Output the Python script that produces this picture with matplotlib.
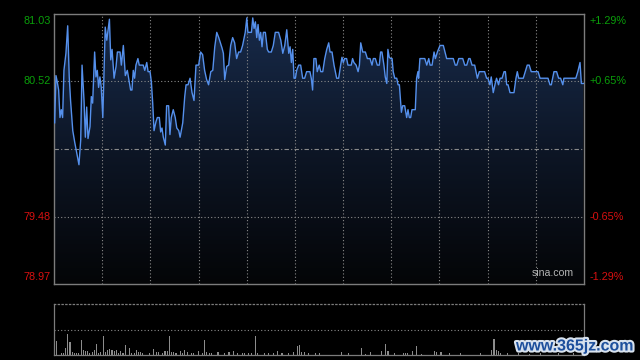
import numpy as np
import matplotlib.pyplot as plt
import matplotlib.patheffects as pe
from matplotlib.colors import LinearSegmentedColormap

plt.rcParams['font.family'] = ['Liberation Sans', 'DejaVu Sans']

# price scale (previous close in the middle)
prev_close = 80.00
y_low, y_high = 78.97, 81.03
label_prices = [81.03, 80.52, 79.48, 78.97]
left_labels = ["81.03", "80.52", "79.48", "78.97"]
right_labels = ["+1.29%", "+0.65%", "-0.65%", "-1.29%"]
label_colors = ["#0a9e0a", "#0a9e0a", "#d81010", "#d81010"]

# minute offsets from the open (0..240) and prices
t = [0.3, 0.9, 1.5, 2.1, 2.7, 3.3, 3.9, 4.5, 5.4, 6.2, 6.9, 7.5, 8.5, 9.4, 10.3, 11.3,
     12.1, 12.7, 13.6, 14.2, 14.8, 15.4, 16.3, 16.9, 17.5, 18.4, 19.0, 19.6, 20.2, 20.8,
     21.4, 22.1, 23.2, 23.9, 25.1, 25.7, 26.3, 27.2, 28.1, 28.7, 29.9, 30.5, 31.4, 32.3,
     33.2, 34.1, 34.7, 35.3, 35.9, 36.5, 37.1, 38.0, 38.6, 40.4, 41.1, 42.0, 42.6, 43.5,
     44.1, 44.7, 45.3, 46.2, 46.8, 47.7, 48.3, 48.9, 49.5, 50.4, 51.0, 51.9, 52.5, 53.1,
     54.0, 54.9, 55.6, 56.5, 57.1,
     58.3, 59.2, 59.8, 60.7, 61.6, 62.5, 63.4, 64.3, 65.5, 66.4, 67.3, 68.2, 69.1, 70.0,
     71.0, 71.9, 72.8, 73.7, 74.6, 76.1, 76.7, 77.3, 78.2, 79.1, 80.0, 80.9, 81.8, 82.7,
     83.6, 84.5, 85.4, 86.6, 87.3, 87.8, 89.4, 90.0, 90.6, 91.2, 91.8, 92.4, 93.0, 93.6,
     94.2, 94.8, 95.7, 96.6, 97.2, 98.4, 99.3, 100.2, 101.7, 102.7, 103.6, 104.5, 105.4,
     106.3, 106.9, 107.5, 108.1, 108.7, 109.3, 109.9, 110.8, 111.7, 112.6, 113.5, 114.4,
     115.9, 116.5, 117.1, 117.7,
     118.6, 119.2, 120.1, 120.8, 121.7, 122.6, 123.5, 124.4, 125.0, 125.9, 126.8, 128.0,
     128.9, 129.8, 130.4, 131.0, 131.6, 132.5, 133.1, 134.6, 135.2, 135.8, 136.8, 137.7,
     138.3, 138.9, 139.8, 141.0, 141.9, 143.1, 144.0, 144.6, 145.5, 146.4, 147.3, 147.9,
     148.5, 149.4, 150.0, 150.7, 151.2, 151.8, 152.5, 153.1, 153.6, 154.3, 155.2, 155.8,
     156.4, 157.3, 157.9, 158.8, 159.7, 160.3, 160.9, 161.5, 162.1, 163.6, 164.2, 164.8,
     165.1, 165.7, 167.9, 168.8, 169.7, 170.3, 171.2, 172.1, 172.7, 173.6, 174.8, 176.3,
     177.8, 180.8, 181.7, 182.4, 183.3, 185.1, 186.0, 186.9, 187.8, 188.4, 189.3, 190.5,
     191.7, 192.6, 195.0, 195.9, 196.5, 197.4, 198.0, 198.9, 199.8, 200.4, 201.3, 202.0,
     202.9, 203.8, 204.4, 205.0, 205.6, 206.5, 208.3, 209.2, 209.8, 210.4, 212.5, 213.4,
     214.3, 215.2, 216.1, 219.2, 220.1, 223.7, 224.6, 225.2, 226.4, 227.6, 228.5, 229.4,
     230.4, 230.9, 236.3, 237.2, 238.2, 238.8, 239.7]
price = [80.20, 80.56, 80.51, 80.45, 80.24, 80.30, 80.24, 80.60, 80.73, 80.94, 80.55, 80.37,
         80.14, 80.05, 79.97, 79.88, 80.07, 80.64, 80.37, 80.09, 80.32, 80.08, 80.17, 80.40,
         80.35, 80.74, 80.55, 80.60, 80.47, 80.55, 80.47, 80.24, 80.93, 80.83, 80.99, 80.68,
         80.76, 80.54, 80.63, 80.74, 80.74, 80.64, 80.79, 80.56, 80.60, 80.51, 80.45, 80.45,
         80.60, 80.54, 80.64, 80.69, 80.64, 80.64, 80.60, 80.66, 80.59, 80.59, 80.51, 80.35,
         80.14, 80.21, 80.24, 80.24, 80.13, 80.16, 80.09, 80.03, 80.33, 80.33, 80.11, 80.24,
         80.30, 80.24, 80.16, 80.14, 80.09,
         80.20, 80.40, 80.49, 80.49, 80.54, 80.43, 80.37, 80.64, 80.64, 80.74, 80.72, 80.60,
         80.53, 80.49, 80.59, 80.60, 80.78, 80.89, 80.85, 80.77, 80.73, 80.53, 80.63, 80.64,
         80.79, 80.85, 80.81, 80.69, 80.74, 80.74, 80.79, 80.89, 81.00, 80.89, 80.89, 81.00,
         80.92, 80.97, 80.85, 80.95, 80.83, 80.89, 80.78, 80.89, 80.89, 80.76, 80.74, 80.74,
         80.79, 80.89, 80.89, 80.83, 80.73, 80.79, 80.91, 80.73, 80.78, 80.66, 80.76, 80.54,
         80.54, 80.60, 80.64, 80.64, 80.54, 80.54, 80.59, 80.59, 80.54, 80.45, 80.69,
         80.69, 80.59, 80.64, 80.59, 80.59, 80.69, 80.76, 80.81, 80.74, 80.74, 80.64, 80.54,
         80.54, 80.64, 80.70, 80.66, 80.69, 80.69, 80.64, 80.64, 80.69, 80.66, 80.64, 80.59,
         80.64, 80.81, 80.74, 80.74, 80.69, 80.69, 80.64, 80.69, 80.69, 80.64, 80.64, 80.74,
         80.74, 80.64, 80.55, 80.50, 80.76, 80.70, 80.69, 80.69, 80.59, 80.54, 80.54, 80.49,
         80.49, 80.28, 80.33, 80.33, 80.24, 80.30, 80.24, 80.24, 80.30, 80.30, 80.54, 80.59,
         80.54, 80.69, 80.69, 80.64, 80.69, 80.64, 80.64, 80.74, 80.69, 80.74, 80.79, 80.79,
         80.69, 80.69, 80.64, 80.64, 80.69, 80.69, 80.64, 80.64, 80.69, 80.69, 80.64, 80.64,
         80.54, 80.59, 80.59, 80.54, 80.54, 80.49, 80.55, 80.43, 80.50, 80.54, 80.49, 80.54,
         80.54, 80.59, 80.59, 80.49, 80.49, 80.43, 80.43, 80.54, 80.59, 80.54, 80.54, 80.59,
         80.64, 80.64, 80.59, 80.59, 80.54, 80.54, 80.49, 80.49, 80.59, 80.59, 80.54, 80.54,
         80.49, 80.54, 80.54, 80.59, 80.66, 80.50, 80.50]

# volume bars (minute, relative volume; axis top = 100)
vol_t = [0, 1, 3, 4, 5, 6, 7, 8, 9, 10,
         11, 12, 13, 14, 15, 16, 17, 18, 19, 20,
         21, 22, 23, 24, 25, 26, 27, 28, 29, 30,
         31, 32, 34, 35, 36, 37, 38, 39, 40, 43,
         45, 46, 47, 49, 50, 51, 52, 53, 54, 55,
         57, 58, 59, 60, 62, 63, 65, 67, 68, 69,
         70, 71, 74, 77, 79, 81, 83, 85, 86, 88,
         89, 91, 92, 95, 97, 99, 101, 103, 106, 108,
         110, 111, 112, 113, 115, 118, 120, 130, 133, 139,
         141, 143, 148, 150, 151, 154, 158, 159, 160, 162,
         164, 166, 172, 173, 175, 179, 184, 193, 198, 199,
         200, 201, 202, 205, 210, 215, 220, 228, 235, 239]
vol = [71, 27, 3, 4, 14, 42, 25, 5, 3, 4,
       3, 29, 10, 8, 8, 4, 6, 10, 22, 4,
       6, 38, 5, 10, 12, 10, 8, 10, 3, 8,
       4, 20, 13, 3, 4, 10, 5, 6, 3, 3,
       12, 6, 5, 3, 8, 8, 38, 5, 6, 3,
       8, 4, 10, 5, 3, 3, 8, 3, 29, 5,
       4, 3, 5, 3, 5, 8, 3, 4, 3, 4,
       3, 38, 3, 3, 4, 3, 8, 3, 3, 5,
       18, 20, 6, 5, 3, 3, 3, 6, 3, 14,
       2, 6, 8, 22, 8, 3, 3, 4, 3, 8,
       18, 2, 8, 6, 6, 3, 3, 3, 9, 31,
       10, 8, 3, 3, 3, 2, 3, 3, 3, 4]

grid_c = "#8a8a8a"
frame_c = "#7c7c7c"

fig = plt.figure(figsize=(6.4, 3.6), dpi=100, facecolor="black")
ax = fig.add_axes([54 / 640, 1 - 284 / 360, 530 / 640, 270 / 360])
ax.set_facecolor("black")
ax.set_xlim(0, 240)
ax.set_ylim(y_low, y_high)

# gradient fill under the price line
cmap = LinearSegmentedColormap.from_list("fill", ["#040507", "#0d1626", "#182b4b"])
grad = np.linspace(0, 1, 256).reshape(-1, 1)
img = ax.imshow(grad, extent=[0, 240, y_low, y_high], origin="lower",
                aspect="auto", cmap=cmap, zorder=1)
poly = ax.fill_between(t, price, y_low, facecolor="none", edgecolor="none")
img.set_clip_path(poly.get_paths()[0], transform=ax.transData)

ax.plot(t, price, color="#5590ec", lw=1.0, zorder=4)

# grid
for k in range(1, 11):
    ax.axvline(240 * k / 11, color=grid_c, lw=0.8, ls=(0, (1, 2)), zorder=2)
for p in [80.52, 79.48]:
    ax.axhline(p, color=grid_c, lw=0.8, ls=(0, (1, 2)), zorder=2)
ax.axhline(prev_close, color=grid_c, lw=0.8, ls=(0, (4, 2, 1, 2)), zorder=2)

for s in ax.spines.values():
    s.set_color(frame_c)
    s.set_linewidth(1.0)
ax.set_xticks([])
ax.set_yticks([])

vas = ["top", "center", "center", "bottom"]
for p, ll, rl, c, va in zip(label_prices, left_labels, right_labels, label_colors, vas):
    off = {"top": -0.015, "center": 0, "bottom": 0.015}[va]
    ax.text(-0.006, p + off, ll, color=c, fontsize=7.8, ha="right", va=va,
            transform=ax.get_yaxis_transform())
    ax.text(1.011, p + off, rl, color=c, fontsize=7.8, ha="left", va=va,
            transform=ax.get_yaxis_transform())

ax.text(0.981, 0.022, "sina.com", color="#b4b4b4", fontsize=7.6, ha="right",
        va="bottom", transform=ax.transAxes)

# volume panel
vx = fig.add_axes([54 / 640, 1 - 355 / 360, 530 / 640, 51 / 360])
vx.set_facecolor("black")
vx.set_xlim(0, 240)
vx.set_ylim(0, 100)
vx.bar(vol_t, vol, width=0.5, color="#8c8c8c", linewidth=0, align="edge")
vx.axhline(50, color=grid_c, lw=0.8, ls=(0, (1, 2)))
vx.spines["top"].set_linestyle((0, (1, 2)))
for s in vx.spines.values():
    s.set_color(frame_c)
    s.set_linewidth(0.9)
vx.set_xticks([])
vx.set_yticks([])

fig.text(516 / 640, 1 - 346 / 360, "www.365jz.com", color="#1d4f9c", fontsize=11.5,
         fontweight="bold", ha="left", va="center",
         path_effects=[pe.withStroke(linewidth=3, foreground="#d8e2ee")])

fig.savefig("out.png", dpi=100, facecolor="black")
